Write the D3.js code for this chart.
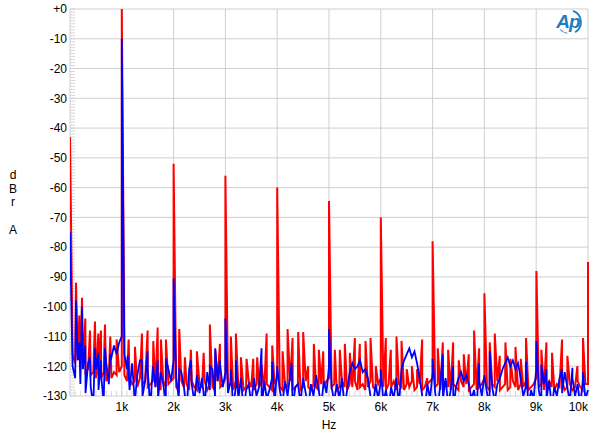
<!DOCTYPE html>
<html><head><meta charset="utf-8">
<script src="https://cdn.jsdelivr.net/npm/d3@7"></script>
<style>body{margin:0;background:#fff}svg{display:block}text{font-family:"Liberation Sans",Arial,sans-serif}</style>
</head><body><svg id="c" width="600" height="444"></svg>
<script>
// ---- data ----
const yTicks = [0,-10,-20,-30,-40,-50,-60,-70,-80,-90,-100,-110,-120,-130];
const yTickLabels = ["+0","-10","-20","-30","-40","-50","-60","-70","-80","-90","-100","-110","-120","-130"];
const xTicks = [1000,2000,3000,4000,5000,6000,7000,8000,9000,10000];
const xTickLabels = ["1k","2k","3k","4k","5k","6k","7k","8k","9k","10k"];
const floorStep = 50; // Hz between floor readings

// red trace, noise floor read every 50 Hz (dBr)
const redFloor = [
 -43,-116,-119,-118,-121,-120,-122,-121,-123,-122,-124,-123,-124,-122,-125,-123,-124,-122,-123,-122,
 -120,-123,-125,-124,-126,-125,-127,-124,-126,-125,-127,-126,-125,-127,-126,-128,-125,-127,-126,-125,
 -124,-127,-128,-125,-127,-126,-128,-125,-127,-128,-126,-127,-125,-128,-126,-127,-128,-125,-127,-126,
 -124,-127,-126,-128,-125,-127,-126,-128,-127,-125,-127,-128,-126,-127,-125,-128,-126,-127,-128,-126,
 -124,-127,-128,-126,-127,-125,-128,-127,-126,-128,-127,-125,-127,-128,-126,-127,-128,-126,-127,-125,
 -124,-127,-126,-128,-127,-125,-127,-128,-126,-127,-125,-128,-127,-126,-128,-127,-125,-127,-128,-126,
 -124,-127,-128,-126,-127,-125,-128,-126,-127,-128,-126,-127,-125,-128,-127,-126,-128,-127,-126,-125,
 -124,-127,-126,-128,-127,-125,-127,-128,-126,-127,-128,-125,-127,-126,-128,-127,-126,-128,-127,-126,
 -124,-127,-128,-126,-127,-125,-128,-127,-126,-128,-127,-125,-127,-128,-126,-127,-125,-128,-127,-126,
 -124,-127,-126,-128,-127,-125,-127,-128,-126,-127,-125,-128,-127,-126,-128,-127,-125,-127,-128,-126,
 -126
];
// red trace, discrete spectral lines [Hz, dBr]
const redSpikes = [
 [116,-92],[180,-103],[232,-97],[296,-104],[386,-108],[482,-105],[547,-109],[598,-108],[675,-106],[778,-110],[900,-111],
 [1000,0],[1048,-108],[1132,-111],[1254,-113.5],[1389,-109],[1498,-108],[1608,-111.5],[1692,-107],[1756,-111],[1852,-111],
 [2000,-52],[2109,-107.5],[2219,-117],[2334,-114.5],[2450,-115],[2580,-115.5],[2700,-106],[2804,-114.5],[2894,-112.5],
 [3000,-56],[3106,-110],[3203,-109],[3300,-117],[3409,-117.5],[3537,-117.5],[3614,-117],[3700,-119.5],[3796,-109],[3904,-113],
 [4000,-60],[4104,-115],[4200,-107.5],[4297,-110.5],[4405,-108.5],[4502,-108.5],[4598,-120],[4708,-112.5],[4804,-114.5],[4888,-115],
 [5000,-64.5],[5113,-114.5],[5209,-114.5],[5306,-112.5],[5402,-115.5],[5499,-110.5],[5595,-112.5],[5705,-111.5],[5802,-110.5],[5904,-120],
 [6000,-70],[6097,-110.5],[6193,-114.5],[6303,-110],[6400,-111.5],[6500,-121],[6600,-120],[6700,-121],[6798,-111],[6895,-124],
 [7000,-78],[7100,-114],[7197,-112],[7300,-114.5],[7396,-112],[7505,-118],[7602,-116],[7698,-116],[7801,-108],[7898,-114],
 [8000,-95.5],[8103,-112],[8200,-109],[8296,-116.5],[8406,-112],[8503,-117.5],[8600,-113.5],[8702,-117.5],[8804,-110.5],
 [9004,-88],[9100,-114.5],[9197,-112],[9306,-115.5],[9499,-111],[9602,-116.5],[9795,-120],[9904,-110.5],[10000,-85]
];
// blue trace, noise floor read every 50 Hz (dBr)
const blueFloor = [
 -75,-120,-124,-118,-126,-121,-129,-119,-127,-133,-121,-128,-123,-132,-119,-126,-117,-113,-116,-112,
 -110,-116,-121,-128,-119,-132,-123,-118,-130,-125,-121,-134,-120,-127,-131,-122,-126,-133,-121,-125,
 -118,-124,-131,-122,-127,-135,-121,-126,-132,-123,-129,-124,-133,-122,-128,-121,-130,-125,-120,-127,
 -122,-129,-125,-134,-127,-131,-124,-135,-128,-126,-133,-124,-130,-127,-135,-125,-131,-128,-124,-132,
 -121,-128,-133,-125,-130,-123,-134,-127,-126,-132,-124,-129,-135,-126,-130,-123,-128,-133,-125,-129,
 -120,-127,-132,-126,-131,-124,-134,-128,-122,-119,-121,-120,-118,-122,-121,-124,-130,-133,-126,-131,
 -125,-132,-128,-134,-127,-131,-124,-133,-121,-118,-116,-114,-117,-115,-119,-124,-130,-134,-126,-131,
 -122,-129,-134,-126,-131,-124,-133,-128,-135,-127,-124,-122,-125,-123,-126,-131,-128,-134,-125,-130,
 -123,-129,-133,-127,-132,-126,-124,-121,-119,-117,-120,-118,-121,-119,-124,-130,-127,-134,-128,-131,
 -121,-128,-133,-126,-131,-125,-134,-127,-130,-124,-129,-122,-127,-132,-124,-130,-126,-133,-125,-131,
 -128
];
// blue trace, discrete spectral lines [Hz, dBr]
const blueSpikes = [
 [116,-98],[180,-112],[232,-100],[296,-113],[386,-117],[482,-114],[547,-115.5],[598,-118],[675,-114],[778,-116],
 [1000,-10],[1048,-113.5],[1113,-116.5],[1389,-118],[1498,-115],[1692,-118],[1852,-117.5],
 [2000,-90.5],[2109,-121],[2334,-118],[2700,-120],[2804,-114],[2894,-118],
 [3000,-104],[3106,-121],[3203,-118],[3698,-114],[3904,-118.5],
 [4000,-120],[4277,-119],[5000,-107.5],[6000,-121],
 [7000,-117.5],[7197,-116],[7396,-120],[7898,-119],[8103,-115],[8804,-118.5],
 [9004,-111.5],[9100,-119.5],[9197,-121],[9499,-121],[9699,-120.5],[9904,-122]
];

// ---- drawing ----
const svg = d3.select("#c");
const x = d3.scaleLinear().domain([0,10000]).range([70,588]);
const y = d3.scaleLinear().domain([-130,0]).range([396,9]);
const gridCol = "#cfcfcf", minorCol = "#d6d6d6";

svg.append("rect").attr("width",600).attr("height",444).attr("fill","#fff");

// minor ticks
const g = svg.append("g");
g.selectAll(".my").data(d3.range(-130,1,1)).join("line")
 .attr("x1",x(0)).attr("x2",x(0)+5).attr("y1",d=>y(d)).attr("y2",d=>y(d))
 .attr("stroke",minorCol).attr("stroke-width",1);
g.selectAll(".mx").data(d3.range(0,10001,100)).join("line")
 .attr("x1",d=>x(d)).attr("x2",d=>x(d)).attr("y1",y(-130)).attr("y2",y(-130)-5)
 .attr("stroke",minorCol).attr("stroke-width",1);

// grid
g.selectAll(".gy").data(yTicks).join("line")
 .attr("x1",x(0)).attr("x2",x(10000)).attr("y1",d=>y(d)).attr("y2",d=>y(d))
 .attr("stroke",gridCol).attr("stroke-width",1);
g.selectAll(".gx").data([0].concat(xTicks)).join("line")
 .attr("x1",d=>x(d)).attr("x2",d=>x(d)).attr("y1",y(0)).attr("y2",y(-130))
 .attr("stroke",gridCol).attr("stroke-width",1);

// tick labels
svg.selectAll(".yl").data(yTicks).join("text")
 .attr("x",67).attr("y",d=>y(d)).attr("dy","0.36em").attr("text-anchor","end")
 .attr("font-size",12).attr("fill","#000").text((d,i)=>yTickLabels[i]);
svg.selectAll(".xl").data(xTicks).join("text")
 .attr("x",d=>x(d)).attr("y",411)
 .attr("text-anchor",d=>d===10000?"end":"middle")
 .attr("font-size",12).attr("fill","#000").text((d,i)=>xTickLabels[i]);

// axis titles
svg.append("text").attr("x",329).attr("y",429).attr("text-anchor","middle").attr("font-size",12).text("Hz");
const yt = ["d","B","r","","A"];
svg.selectAll(".yt").data(yt).join("text")
 .attr("x",13).attr("y",(d,i)=>179+i*13.7).attr("text-anchor","middle").attr("font-size",12).text(d=>d);

// traces
svg.append("clipPath").attr("id","pc").append("rect")
 .attr("x",x(0)).attr("y",y(0)-1).attr("width",x(10000)-x(0)+1).attr("height",y(-130)-y(0)+1);

function series(floor, spikes){
  const pts = floor.map((v,i)=>({f:i*floorStep, v, o:0}));
  spikes.forEach(([f,v])=>pts.push({f, v, o:1}));
  pts.sort((a,b)=>a.f-b.f || a.o-b.o);
  return pts;
}
const line = d3.line().x(d=>x(d.f)).y(d=>y(d.v));
const tr = svg.append("g").attr("clip-path","url(#pc)");
tr.append("path").datum(series(redFloor,redSpikes)).attr("d",line)
 .attr("fill","none").attr("stroke","#ff0000").attr("stroke-width",2);
tr.append("path").datum(series(blueFloor,blueSpikes)).attr("d",line)
 .attr("fill","none").attr("stroke","#0000ff").attr("stroke-width",1.8);

// AP logo
const logo = svg.append("g").attr("transform","translate(569,22)");
logo.append("path").attr("d",d3.arc().innerRadius(11).outerRadius(12.8).startAngle(0.35).endAngle(2.6)())
 .attr("fill","#1f7cc2");
logo.append("path").attr("d",d3.arc().innerRadius(11).outerRadius(12).startAngle(3.3).endAngle(4.0)())
 .attr("fill","#1f7cc2");
logo.append("text").attr("x",-1).attr("y",6).attr("text-anchor","middle")
 .attr("font-size",19).attr("font-style","italic").attr("font-weight","bold")
 .attr("fill","#1f7cc2").attr("letter-spacing","-1").text("Ap");
</script></body></html>
